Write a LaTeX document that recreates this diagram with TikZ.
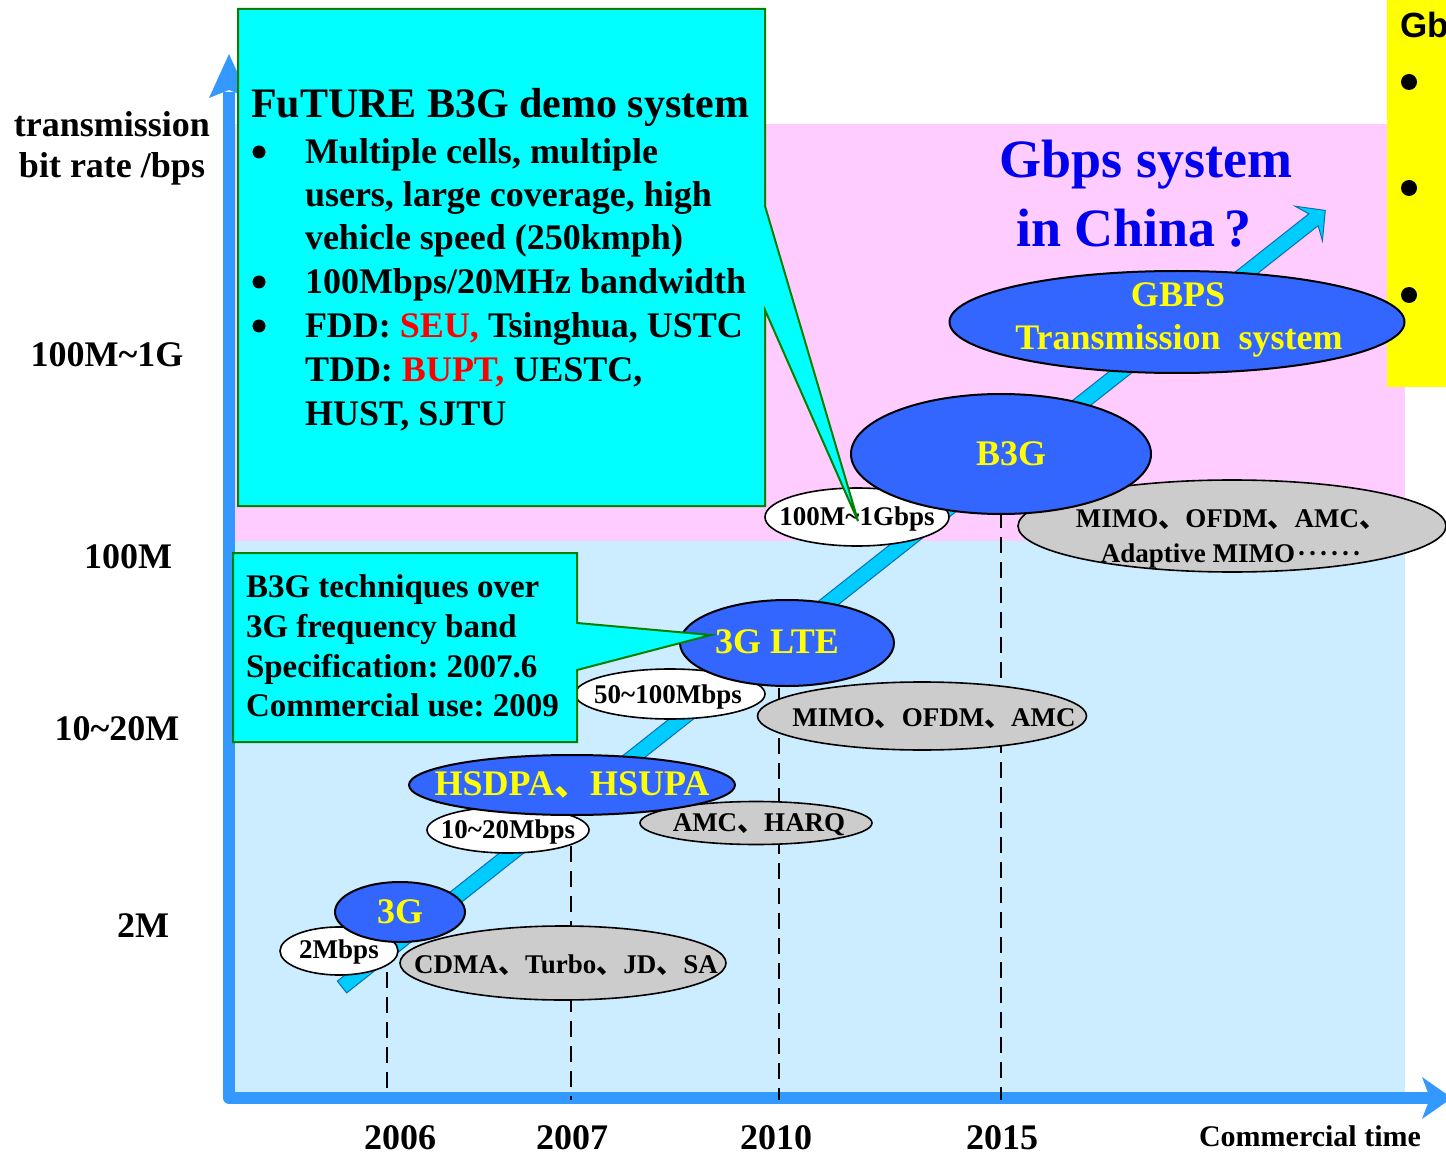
\documentclass[tikz,border=0pt]{standalone}
\usepackage{fontspec}
\setmainfont{Liberation Serif}
\newfontfamily\sansfont{Liberation Sans}
\newfontfamily\cjkfont{Noto Sans CJK SC}
\usetikzlibrary{shapes.geometric}

\definecolor{lowband}{HTML}{CCECFF}
\definecolor{highband}{HTML}{FFCCFF}
\definecolor{axisblue}{HTML}{3399FF}
\definecolor{trendcyan}{HTML}{00CCFF}
\definecolor{trendedge}{HTML}{0A6FB0}
\definecolor{techblue}{HTML}{3366FF}
\definecolor{techgray}{HTML}{CCCCCC}
\definecolor{notecyan}{HTML}{00FFFF}
\definecolor{notegreen}{HTML}{008000}
\definecolor{headblue}{HTML}{0000EE}
\definecolor{hilite}{HTML}{FF0000}
\definecolor{sideyellow}{HTML}{FFFF00}

\newcommand\fs[2]{\fontsize{#1}{#2}\selectfont}
\newcommand\dun{{\cjkfont 、}}
% six centred dots, as in a Chinese ellipsis
\newcommand\middots{\kern2pt\textperiodcentered\kern2pt\textperiodcentered\kern2pt\textperiodcentered\kern2pt\textperiodcentered\kern2pt\textperiodcentered\kern2pt\textperiodcentered}
\newcommand\tld{\textasciitilde}

\begin{document}
\frenchspacing
\begin{tikzpicture}[x=1pt, y=-1pt,
  every node/.style={inner sep=0pt, outer sep=0pt, font=\bfseries},
  tech/.style={ellipse, draw=black, line width=2pt, fill=techblue},
  rate/.style={ellipse, draw=black, line width=1.6pt, fill=white},
  method/.style={ellipse, draw=black, line width=1.6pt, fill=techgray},
  techtxt/.style={anchor=base, text=sideyellow, font=\bfseries\fs{36}{43}},
  smalltxt/.style={anchor=base, font=\bfseries\fs{27}{33}},
  axislab/.style={anchor=base, font=\bfseries\fs{36}{43}},
  yearlab/.style={anchor=base, font=\bfseries\fs{36}{43}},
  bodytxt/.style={anchor=base west, font=\bfseries\fs{36}{43}},
  notetxt/.style={anchor=base west, font=\bfseries\fs{33}{40}},
  bulletdot/.style={circle, fill=black, minimum size=13pt},
  note/.style={draw=notegreen, line width=2pt, fill=notecyan, line join=miter},
  yearline/.style={draw=black, line width=2pt, dash pattern=on 16pt off 9pt},
]
\useasboundingbox (0,0) rectangle (1446,1155);
\clip (0,0) rectangle (1446,1155);

% rate bands
\fill[lowband] (232,541) rectangle (1405,1095);
\fill[highband] (232,124) rectangle (1405,541);

% side panel
\fill[sideyellow] (1387,0) rectangle (1450,387);
\node[anchor=base west, font=\sansfont\bfseries\fs{35}{40}] (sidetitle) at (1400,38) {Gb};
\node[bulletdot, minimum size=16pt] (sideb1) at (1409,82) {};
\node[bulletdot, minimum size=16pt] (sideb2) at (1409,188) {};
\node[bulletdot, minimum size=16pt] (sideb3) at (1409,295) {};

% axes
\draw[axisblue, line width=12pt, line join=round] (229,92) -- (229,1098) -- (1430,1098);
\fill[axisblue] (229,54) -- (249,98) -- (229,90) -- (209,98) -- cycle;
\fill[axisblue] (1452,1098) -- (1422,1077) -- (1430,1098) -- (1422,1119) -- cycle;

% axis labels
\node[axislab] (ylab1) at (112,137) {transmission};
\node[axislab] (ylab2) at (112,178) {bit rate /bps};
\node[axislab] (r1g) at (107,367) {100M\tld1G};
\node[axislab] (r100m) at (128,568) {100M};
\node[axislab] (r20m) at (117,740) {10\tld20M};
\node[axislab] (r2m) at (143,937) {2M};
\node[yearlab] (y2006) at (400,1149) {2006};
\node[yearlab] (y2007) at (572,1149) {2007};
\node[yearlab] (y2010) at (776,1149) {2010};
\node[yearlab] (y2015) at (1002,1149) {2015};
\node[anchor=base, font=\bfseries\fs{30}{36}] (xlab) at (1310,1146) {Commercial time};

% year guide lines
\draw[yearline] (387,972) -- (387,1090);
\draw[yearline] (571,846) -- (571,1100);
\draw[yearline] (779,688) -- (779,1100);
\draw[yearline] (1001,512) -- (1001,1100);

% growth trend arrow
\begin{scope}[shift={(342,987)}, rotate=38.3]
  \filldraw[fill=trendcyan, draw=trendedge, line width=1pt, line join=miter]
    (0,-7.5) -- (1238,-7.5) -- (1232,-22) -- (1253,0) -- (1232,22) -- (1238,7.5) -- (0,7.5) -- cycle;
\end{scope}

% rates and techniques
\node[rate, minimum width=118pt, minimum height=48pt] (e2m) at (339,951) {};
\node[method, minimum width=326pt, minimum height=74pt] (ecdma) at (563,963) {};
\node[rate, minimum width=162pt, minimum height=46pt] (e20m) at (508,830) {};
\node[method, minimum width=232pt, minimum height=43pt] (eharq) at (756,823) {};
\node[rate, minimum width=190pt, minimum height=50pt] (e100m) at (670,694) {};
\node[method, minimum width=329pt, minimum height=68pt] (emimo) at (922,716) {};
\node[rate, minimum width=184pt, minimum height=58pt] (e1g) at (857,517) {};
\node[method, minimum width=428pt, minimum height=92pt] (eamimo) at (1232,526) {};

\node[smalltxt] (t2m) at (339,958) {2Mbps};
\node[smalltxt] (tcdma) at (566,973) {CDMA\dun Turbo\dun JD\dun SA};
\node[smalltxt] (t20m) at (508,838) {10\tld20Mbps};
\node[smalltxt] (tharq) at (759,831) {AMC\dun HARQ};
\node[smalltxt] (t100m) at (668,703) {50\tld100Mbps};
\node[smalltxt] (tmimo) at (934,726) {MIMO\dun OFDM\dun AMC};
\node[smalltxt] (t1g) at (857,525) {100M\tld1Gbps};
\node[smalltxt] (tamimo1) at (1231,527) {MIMO\dun OFDM\dun AMC\dun};
\node[smalltxt] (tamimo2) at (1231,562) {Adaptive MIMO\middots};

% generations
\node[tech, minimum width=130pt, minimum height=60pt] (g3) at (400,912) {};
\node[tech, minimum width=326pt, minimum height=60pt] (ghspa) at (572,785) {};
\node[tech, minimum width=214pt, minimum height=86pt] (glte) at (787,643) {};
\node[tech, minimum width=300pt, minimum height=120pt] (gb3g) at (1001,454) {};
\node[tech, minimum width=455pt, minimum height=102pt] (ggbps) at (1177,322) {};

\node[techtxt] (l3g) at (400,923) {3G};
\node[techtxt] (lhspa) at (572,795) {HSDPA\dun HSUPA};
\node[techtxt] (llte) at (777,653) {3G LTE};
\node[techtxt] (lb3g) at (1011,465) {B3G};
\node[techtxt] (lgbps1) at (1178,307) {GBPS};
\node[techtxt] (lgbps2) at (1179,350) {Transmission\ \ system};

% heading
\node[anchor=base, text=headblue, font=\bfseries\fs{54}{60}] (head1) at (1146,178) {Gbps system};
\node[anchor=base, text=headblue, font=\bfseries\fs{54}{60}] (head2) at (1134,247) {in China\,?};

% demo system callout
\coordinate (demotip) at (858,521);
\draw[note] (238,9) -- (765,9) -- (765,206) -- (demotip) -- (765,310) -- (765,506) -- (238,506) -- cycle;
\node[anchor=base west, font=\bfseries\fs{42}{50}] (demotitle) at (251,118) {FuTURE B3G demo system};
\node[bulletdot] (db1) at (259,152) {};
\node[bulletdot] (db2) at (259,282) {};
\node[bulletdot] (db3) at (259,326) {};
\node[bodytxt] (dl1) at (305,164) {Multiple cells, multiple};
\node[bodytxt] (dl2) at (305,207) {users, large coverage, high};
\node[bodytxt] (dl3) at (305,250) {vehicle speed (250kmph)};
\node[bodytxt] (dl4) at (305,294) {100Mbps/20MHz bandwidth};
\node[bodytxt] (dl5) at (305,338) {FDD: \textcolor{hilite}{SEU,} Tsinghua, USTC};
\node[bodytxt] (dl6) at (305,382) {TDD: \textcolor{hilite}{BUPT,} UESTC,};
\node[bodytxt] (dl7) at (305,425) {HUST, SJTU};

% LTE callout
\coordinate (ltetip) at (711,635);
\draw[note] (233,553) -- (577,553) -- (577,623) -- (ltetip) -- (577,670) -- (577,742) -- (233,742) -- cycle;
\node[notetxt] (nl1) at (246,597) {B3G techniques over};
\node[notetxt] (nl2) at (246,637) {3G frequency band};
\node[notetxt] (nl3) at (246,677) {Specification: 2007.6};
\node[notetxt] (nl4) at (246,716) {Commercial use: 2009};
\end{tikzpicture}
\end{document}
